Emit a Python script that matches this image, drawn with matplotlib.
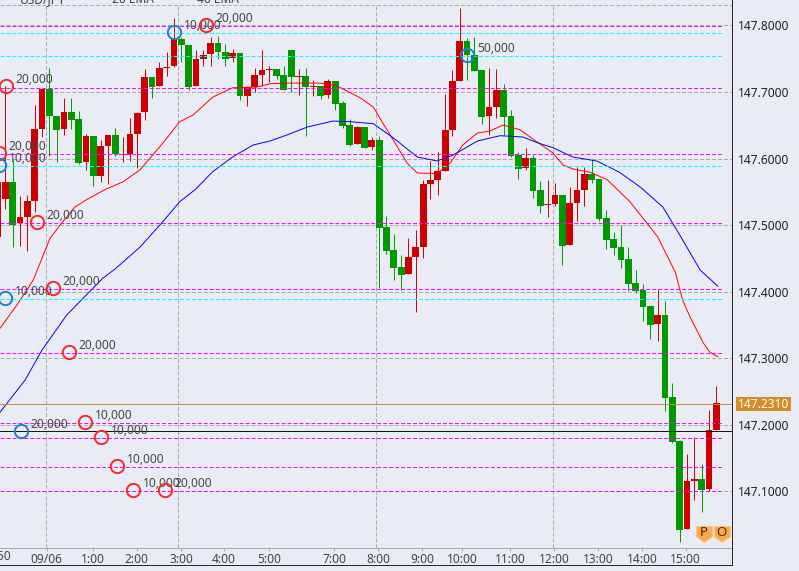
import matplotlib
matplotlib.use("Agg")
import matplotlib.pyplot as plt
from matplotlib.lines import Line2D
from matplotlib.patches import Rectangle
import numpy as np

plt.rcParams['font.family'] = ['Noto Sans', 'DejaVu Sans']

W, H = 799, 571
BG = '#E9ECF5'
RED, GREEN = '#CC0000', '#009900'

first_index = -1
opens = [147.481,147.538,147.563,147.502,147.511,147.535,147.643,147.703,147.663,147.643,
 147.669,147.658,147.594,147.633,147.572,147.618,147.634,147.604,147.606,147.636,
 147.668,147.721,147.708,147.735,147.737,147.778,147.769,147.708,147.748,147.756,
 147.772,147.758,147.749,147.757,147.693,147.706,147.724,147.732,147.733,147.724,
 147.762,147.721,147.723,147.706,147.708,147.694,147.715,147.682,147.649,147.621,
 147.646,147.616,147.627,147.496,147.461,147.436,147.425,147.451,147.466,147.561,
 147.567,147.580,147.642,147.715,147.775,147.754,147.732,147.663,147.676,147.702,
 147.663,147.604,147.585,147.600,147.552,147.529,147.530,147.544,147.469,147.532,
 147.552,147.576,147.568,147.510,147.478,147.466,147.448,147.412,147.401,147.377,
 147.350,147.364,147.241,147.175,147.043,147.115,147.118,147.103,147.191]
closes = [147.564,147.563,147.499,147.511,147.535,147.643,147.703,147.662,147.642,147.669,
 147.657,147.592,147.633,147.572,147.618,147.634,147.605,147.606,147.636,147.667,
 147.721,147.706,147.735,147.736,147.778,147.769,147.706,147.748,147.754,147.772,
 147.758,147.748,147.757,147.692,147.706,147.724,147.732,147.733,147.723,147.701,
 147.721,147.723,147.706,147.707,147.693,147.715,147.681,147.648,147.619,147.646,
 147.615,147.627,147.495,147.460,147.434,147.424,147.451,147.466,147.561,147.567,
 147.580,147.642,147.715,147.775,147.754,147.730,147.661,147.676,147.702,147.661,
 147.603,147.583,147.600,147.550,147.528,147.530,147.544,147.467,147.532,147.552,
 147.576,147.567,147.508,147.476,147.464,147.446,147.410,147.400,147.376,147.349,
 147.364,147.239,147.173,147.041,147.115,147.118,147.101,147.191,147.231]
highs = [147.574,147.708,147.597,147.543,147.544,147.679,147.703,147.735,147.663,147.690,
 147.690,147.670,147.636,147.633,147.627,147.634,147.645,147.631,147.660,147.669,
 147.733,147.721,147.743,147.758,147.810,147.781,147.769,147.762,147.762,147.781,
 147.783,147.770,147.763,147.757,147.706,147.734,147.762,147.738,147.733,147.738,
 147.762,147.733,147.735,147.717,147.708,147.718,147.715,147.685,147.658,147.648,
 147.646,147.631,147.632,147.513,147.486,147.454,147.479,147.492,147.567,147.595,
 147.609,147.696,147.732,147.825,147.780,147.781,147.732,147.735,147.733,147.711,
 147.672,147.609,147.615,147.604,147.565,147.567,147.562,147.544,147.556,147.586,
 147.586,147.598,147.568,147.522,147.489,147.499,147.466,147.431,147.410,147.377,
 147.403,147.385,147.262,147.176,147.155,147.181,147.140,147.221,147.257]
lows = [147.476,147.523,147.466,147.468,147.460,147.519,147.631,147.603,147.594,147.634,
 147.643,147.591,147.582,147.557,147.563,147.561,147.603,147.593,147.595,147.585,
 147.657,147.690,147.708,147.722,147.736,147.744,147.702,147.708,147.738,147.737,
 147.748,147.737,147.743,147.686,147.678,147.698,147.708,147.714,147.718,147.701,
 147.699,147.694,147.632,147.692,147.688,147.690,147.672,147.645,147.618,147.621,
 147.615,147.612,147.404,147.455,147.416,147.401,147.425,147.368,147.449,147.538,
 147.544,147.580,147.633,147.715,147.717,147.730,147.651,147.634,147.660,147.634,
 147.601,147.568,147.582,147.540,147.517,147.511,147.528,147.439,147.469,147.505,
 147.528,147.562,147.505,147.463,147.454,147.434,147.400,147.397,147.355,147.328,
 147.325,147.220,147.172,147.023,147.043,147.086,147.068,147.100,147.191]

ema20_pos = [-0.7,1.6,3.8,5,6.1,7.7,9.5,11.1,13.6,16.1,18.4,21.5,23.8,25.6,28.3,31,34.3,36.1,38.8,41.2,42.9,
 45.2,48.4,50.2,51.5,52.9,54.8,56.2,58.9,60.7,62.4,64.4,66.1,67.9,70.2,72.5,74.7,76.1,77.4,79.8,82.1,
 85.2,87.5,89,91.4,92.4,93.4,95.2,96.1,97.2]
ema20 = [147.344,147.379,147.416,147.449,147.479,147.502,147.526,147.537,147.552,147.564,147.582,147.622,147.654,147.664,147.691,147.705,147.706,147.711,147.712,147.712,147.712,
 147.708,147.690,147.676,147.652,147.627,147.592,147.577,147.576,147.592,147.619,147.637,147.640,147.649,147.642,147.624,147.607,147.589,147.583,147.578,147.567,
 147.534,147.502,147.481,147.428,147.386,147.361,147.322,147.308,147.301]
ema40_pos = [-0.7,2.7,5,8.4,13.3,15,18.4,21.5,23.8,25.9,28.3,31,33.8,36.1,38.4,41.2,44.7,47,50.2,52.9,
 56.2,58.9,61.1,64.4,67.5,70.6,72.7,74.7,77.4,80.7,83.8,86.6,89.7,92,94.8,97.2]
ema40 = [147.218,147.266,147.311,147.364,147.419,147.433,147.466,147.504,147.534,147.552,147.579,147.601,147.619,147.625,147.634,147.646,147.655,147.654,147.651,147.630,
 147.601,147.595,147.604,147.625,147.633,147.631,147.622,147.615,147.601,147.595,147.578,147.556,147.526,147.484,147.431,147.407]

price_ticks = [147.1,147.2,147.3,147.4,147.5,147.6,147.7,147.8]
top_grid = 147.8306
vgrid_pos = [5.55,23.56,50.57,74.72]
time_pos = [5.62,11.92,17.92,23.97,29.83,35.97,44.84,50.84,56.84,62.3,68.85,74.85,80.85,86.85,92.8]
time_labels = ['09/06','1:00','2:00','3:00','4:00','5:00','7:00','8:00','9:00','10:00','11:00','12:00','13:00','14:00','15:00']
magenta_levels = [147.79902,147.70590,147.60677,147.50314,147.40401,147.30788,147.20275,147.18022,147.13666,147.10061]
cyan_levels = [147.78851,147.75396,147.58875,147.38899,147.19073]
position_price = 147.19073
current_price = 147.231

trade_pos = [0.09,-0.86,-0.86,4.32,6.5,8.69,-0.05,2.14,10.87,13.05,15.23,17.42,21.78,23.01,27.38,63]
trade_price = [147.708,147.607,147.589,147.503,147.404,147.308,147.389,147.190,147.203,147.180,147.137,147.101,147.101,147.789,147.799,147.754]
trade_qty = ['20,000','20,000','10,000','20,000','20,000','20,000','10,000','20,000','10,000','10,000','10,000','10,000','20,000','10,000','20,000','50,000']
trade_side = ['b','b','s','b','b','b','s','s','b','b','b','b','b','s','b','s']

fig = plt.figure(figsize=(W/100, H/100), dpi=100, facecolor=BG)
AX_R, AX_B = 732.3, 548.0
ax = fig.add_axes([0, (H-AX_B)/H, AX_R/W, AX_B/H], facecolor=BG)
PX = 7.33
X0 = 5.33
TOP = 147.83807
SCALE = 0.00150195
CAL = 0.00127   # reading calibration of the marks against the pixel-snapped grid
ax.set_xlim((0-X0)/PX, (AX_R-X0)/PX)
ax.set_ylim(TOP-SCALE*AX_B, TOP)
xmin, xmax = ax.get_xlim()
ybot = ax.get_ylim()[0]

LW = 0.7
DASH = (0, (4.1, 2.05))
GREY = '#A9A9A9'
for p in price_ticks + [top_grid]:
    ax.plot([xmin, xmax], [p, p], color=GREY, lw=LW, ls=DASH, zorder=1)
for v in vgrid_pos:
    ax.plot([v, v], [ybot, top_grid], color=GREY, lw=LW, ls=DASH, zorder=1)

idx = np.arange(first_index, first_index + len(opens))
o, h, l, c = [np.array(a) + CAL for a in (opens, highs, lows, closes)]
cols = [RED if cc >= oo else GREEN for oo, cc in zip(o, c)]
for xi, lo, hi, col in zip(idx, l, h, cols):
    ax.plot([xi, xi], [lo, hi], color=col, lw=LW, zorder=2, solid_capstyle='butt')
ax.bar(idx, np.abs(c-o), bottom=np.minimum(o, c), width=0.92, color=cols, linewidth=0, zorder=3)

ax.plot(ema20_pos, np.array(ema20)+CAL, color='#FF0000', lw=LW, zorder=4)
ax.plot(ema40_pos, np.array(ema40)+CAL, color='#0000FF', lw=LW, zorder=4)

LEVEL_END = (722-X0)/PX
for p in magenta_levels:
    ax.plot([xmin, LEVEL_END], [p, p], color='#FF00FF', lw=LW, ls=DASH, zorder=5)
for p in cyan_levels:
    ax.plot([xmin, LEVEL_END], [p, p], color='#00FFFF', lw=LW, ls=DASH, zorder=5)
ax.plot([xmin, xmax], [position_price]*2, color='#111111', lw=LW, zorder=5)
ax.plot([xmin, (731-X0)/PX], [current_price]*2, color='#C98A3C', lw=LW, zorder=5)

for xp, yp, q, s in zip(trade_pos, trade_price, trade_qty, trade_side):
    col = '#F52A2A' if s == 'b' else '#1E7FCC'
    ax.plot([xp], [yp+CAL], 'o', ms=9.6, mfc='none', mec=col, mew=1.4, zorder=7, clip_on=False)
    ax.annotate(q, (xp, yp+CAL), xytext=(6.9, 4.7), textcoords='offset points', ha='left', va='center',
                fontsize=8.6, color='#484848', zorder=6, annotation_clip=False)

shield = [(-1, 1), (1, 1), (1, -0.3), (0, -1), (-1, -0.3), (-1, 1)]
for pos_px, letter in [(703.8, 'P'), (721.8, 'O')]:
    xi = (pos_px-X0)/PX
    yi = TOP-SCALE*533.8
    ax.plot([xi], [yi], marker=shield, ms=11.5, mfc='#FBA94E', mec='#FFC47E', mew=0.8, zorder=8, clip_on=False)
    ax.text(xi, yi+0.0025, letter, ha='center', va='center', fontsize=9.5, fontweight='bold', color='#4A2800', zorder=9)

for s in ('left', 'top', 'right'):
    ax.spines[s].set_visible(False)
ax.spines['bottom'].set_color('#A8A8A8')
ax.spines['bottom'].set_linewidth(LW)

ax.yaxis.tick_right()
ax.set_yticks(price_ticks)
ax.set_yticklabels([f'{p:.4f}' for p in price_ticks], fontsize=8.6, color='#222222')
ax.tick_params(axis='y', length=0, pad=4.0)
ax.set_xticks(time_pos)
ax.set_xticklabels(time_labels, fontsize=8.6, color='#444444')
ax.tick_params(axis='x', length=2, width=LW, color='#A8A8A8', pad=1.8)
fig.text(11/W, 1-(557/H), '23:50', ha='right', va='center', fontsize=8.6, color='#444444')

fig.add_artist(Line2D([AX_R/W]*2, [1, 1-565/H], color='#222222', lw=LW))
fig.add_artist(Line2D([0, AX_R/W], [1-565/H]*2, color='#222222', lw=LW))

fig.add_artist(Rectangle((736/W, 1-411/H), 55/W, 14/H, transform=fig.transFigure, facecolor='#D68B24', edgecolor='none', zorder=10))
fig.text(763.5/W, 1-404/H, f'{current_price:.4f}', ha='center', va='center', fontsize=8.6, color='white', zorder=11)

for xt, t in [(43, 'USD/JPY'), (133, '20 EMA'), (217.5, '40 EMA')]:
    fig.text(xt/W, 1-3/H, t, ha='center', va='baseline', fontsize=8.6, color='#444444')

fig.savefig('out.png', dpi=100, facecolor=BG)
